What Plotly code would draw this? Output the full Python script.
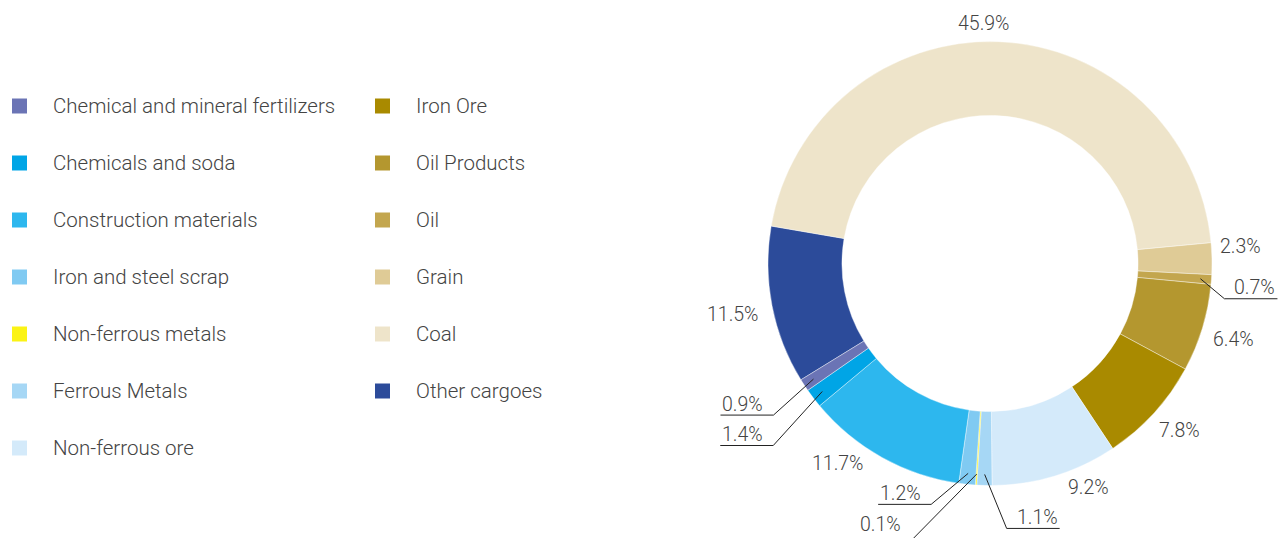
import math
import plotly.graph_objects as go

# ---------------- data ----------------
categories = [
    "Chemical and mineral fertilizers", "Chemicals and soda", "Construction materials",
    "Iron and steel scrap", "Non-ferrous metals", "Ferrous Metals", "Non-ferrous ore",
    "Iron Ore", "Oil Products", "Oil", "Grain", "Coal", "Other cargoes",
]
shares = [0.9, 1.4, 11.7, 1.2, 0.1, 1.1, 9.2, 7.8, 6.4, 0.7, 2.3, 45.9, 11.5]
colors = [
    "#6b74b5", "#00a5e6", "#2db7ee", "#80caf2", "#fbf315", "#a6d7f5", "#d4eafa",
    "#a98a00", "#b4972f", "#c3a64e", "#dfcb96", "#eee4ca", "#2c4b9a",
]
pct_labels = [f"{v:.1f}%" for v in shares]

# ---------------- layout constants (pixels) ----------------
W, H = 1281, 538
CX, CY, R = 990, 263.5, 222
HOLE = 0.667
START = 238.4          # first category starts here (deg clockwise from 12 o'clock), slices run counter-clockwise
FONT = "Roboto Light, Roboto, sans-serif"
TXT = "#444444"

# plain labels: index -> (radius, nudge dx, nudge dy)
plain = {11: (250, -15, 10), 10: (250, 1, -12), 8: (250, 4, 3), 7: (250, 5, -2),
         6: (250, 25, -15), 2: (250, -30, -18), 12: (250, -12, 4)}
# leader labels: index -> (side, knee dx, knee dy, text lift) relative to anchor on ring
leader = {0: ("left", -40, 36, 11), 1: ("left", -49, 54, 11), 3: ("left", -37, 31, 11),
          4: ("left", -66, 67, 17), 5: ("right", 22, 54, 11), 9: ("right", 24, 20, 11)}
ANCHOR_R = 211
UNDERLINE = 53


def px(x):
    return x / W


def py(y):
    return 1 - y / H


total = sum(shares)
mids = []
cum = 0.0
for v in shares:
    mids.append(START - (cum + v / 2) / total * 360)
    cum += v


def polar(r, ang):
    a = math.radians(ang)
    return CX + r * math.sin(a), CY - r * math.cos(a)


fig = go.Figure(go.Pie(
    labels=categories[::-1], values=shares[::-1],
    marker=dict(colors=colors[::-1], line=dict(color="white", width=0.4)),
    hole=HOLE, sort=False, direction="clockwise", rotation=START,
    textinfo="none", showlegend=False,
    domain=dict(x=[px(CX - R), px(CX + R)], y=[py(CY + R), py(CY - R)]),
))

annotations = []
shapes = []
lab_font = dict(family=FONT, size=19.5, color=TXT, weight=300)

for i, (r, dx, dy) in plain.items():
    x, y = polar(r, mids[i])
    annotations.append(dict(x=px(x + dx), y=py(y + dy), xref="paper", yref="paper",
                            text=pct_labels[i], showarrow=False, xanchor="center",
                            yanchor="middle", font=lab_font))

for i, (side, kdx, kdy, lift) in leader.items():
    ax, ay = polar(ANCHOR_R, mids[i])
    kx, ky = ax + kdx, ay + kdy
    ex = kx - UNDERLINE if side == "left" else kx + UNDERLINE
    shapes.append(dict(type="path", xref="paper", yref="paper",
                       path=f"M {px(ax)},{py(ay)} L {px(kx)},{py(ky)} L {px(ex)},{py(ky)}",
                       line=dict(color="#222222", width=1)))
    annotations.append(dict(x=px(ex), y=py(ky - lift), xref="paper", yref="paper",
                            text=pct_labels[i], showarrow=False,
                            xanchor="left" if side == "left" else "right",
                            yanchor="middle", font=lab_font))

# legend (two columns, column-major)
ROWS = 7
for i, (name, col) in enumerate(zip(categories, colors)):
    c, rrow = divmod(i, ROWS)
    sx = 12 if c == 0 else 375
    yc = 106 + 57 * rrow
    shapes.append(dict(type="rect", xref="paper", yref="paper",
                       x0=px(sx), x1=px(sx + 15), y0=py(yc - 7.5), y1=py(yc + 7.5),
                       fillcolor=col, line=dict(width=0)))
    annotations.append(dict(x=px(sx + 39), y=py(yc), xref="paper", yref="paper",
                            text=name, showarrow=False, xanchor="left", yanchor="middle",
                            font=dict(family=FONT, size=20.5, color=TXT, weight=300)))

fig.update_layout(width=W, height=H, margin=dict(l=0, r=0, t=0, b=0),
                  paper_bgcolor="white", plot_bgcolor="white", showlegend=False,
                  annotations=annotations, shapes=shapes)

fig.write_html("out.html")
